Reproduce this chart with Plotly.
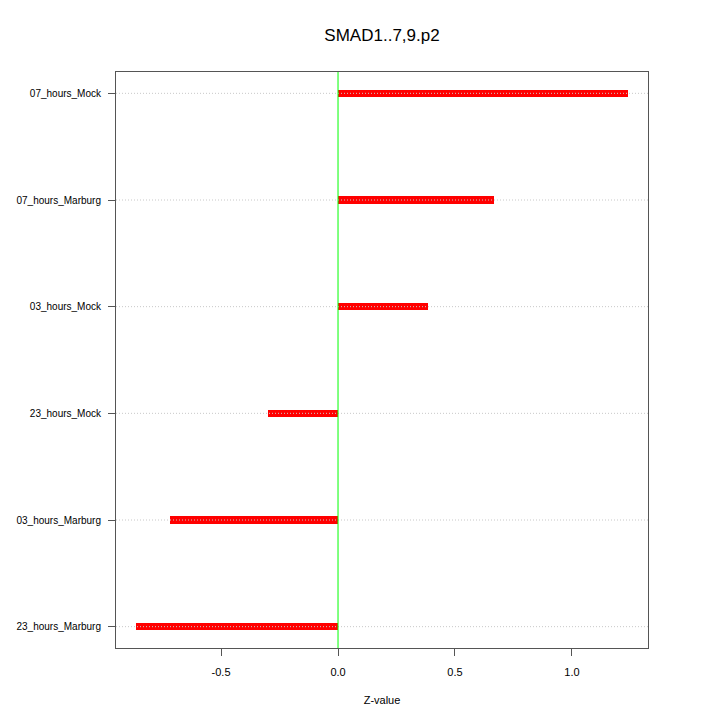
import plotly.graph_objects as go

categories = ["23_hours_Marburg", "03_hours_Marburg", "23_hours_Mock",
              "03_hours_Mock", "07_hours_Marburg", "07_hours_Mock"]
zvalues = [-0.863, -0.718, -0.299, 0.385, 0.667, 1.239]
positions = list(range(1, len(categories) + 1))
xticks = [-0.5, 0.0, 0.5, 1.0]
xticklabels = ["-0.5", "0.0", "0.5", "1.0"]

FONT = "Liberation Sans, Arial, Helvetica, sans-serif"

fig = go.Figure()
fig.add_trace(go.Bar(
    x=zvalues, y=positions, base=0, orientation="h", width=0.068,
    marker=dict(color="#ff0000", line=dict(width=0)), showlegend=False,
    hoverinfo="skip",
))

shapes = []
for p in positions:
    shapes.append(dict(type="line", xref="paper", x0=0, x1=1, yref="y", y0=p, y1=p,
                       line=dict(color="#c8c8c8", width=1, dash="1px,2px"), layer="above"))
shapes.append(dict(type="line", xref="x", x0=0, x1=0, yref="paper", y0=0, y1=1,
                   line=dict(color="#00ff00", width=1), layer="above"))

fig.update_layout(
    width=720, height=720,
    margin=dict(l=108, r=80, t=64, b=80, autoexpand=False),
    paper_bgcolor="white", plot_bgcolor="white",
    font=dict(family=FONT, size=11, color="black"),
    title=dict(text="SMAD1..7,9.p2", x=(108 + 266) / 720, xanchor="center", y=1 - 27 / 720,
               yanchor="middle", font=dict(family=FONT, size=17, color="black")),
    shapes=shapes,
    bargap=0,
    xaxis=dict(range=[-0.949, 1.325], tickvals=xticks, ticktext=xticklabels,
               showgrid=False, zeroline=False, showline=True, mirror=True,
               linecolor="#555555", linewidth=1, ticks="outside", ticklen=7,
               tickcolor="#555555", tickfont=dict(size=11), ticklabelstandoff=7,
               automargin=False,
               title=dict(text="Z-value", font=dict(size=11), standoff=19)),
    yaxis=dict(range=[0.8, 6.2], tickvals=positions, ticktext=categories,
               showgrid=False, zeroline=False, showline=True, mirror=True,
               linecolor="#555555", linewidth=1, ticks="outside", ticklen=7,
               tickcolor="#555555", tickfont=dict(size=10), ticklabelstandoff=5,
               automargin=False),
)

fig.write_html("out.html")
